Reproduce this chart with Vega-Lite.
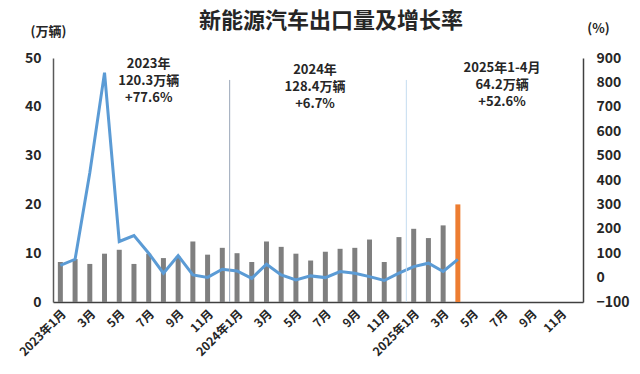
{
  "$schema": "https://vega.github.io/schema/vega-lite/v6.json",
  "width": 530,
  "height": 244,
  "autosize": {"type": "none"},
  "padding": {"left": 53, "top": 58, "right": 57, "bottom": 72},
  "background": "white",
  "config": {
    "font": "Noto Sans CJK SC",
    "view": {"stroke": null}
  },
  "title": {
    "text": "新能源汽车出口量及增长率",
    "fontSize": 22,
    "fontWeight": "bold",
    "color": "#262626",
    "anchor": "middle",
    "dx": 13,
    "offset": -11
  },
  "data": {
    "values": [
      {"ym": "2023-01", "vol": 8.2, "growth": 50},
      {"ym": "2023-02", "vol": 8.8, "growth": 75},
      {"ym": "2023-03", "vol": 7.8, "growth": 430},
      {"ym": "2023-04", "vol": 9.9, "growth": 840},
      {"ym": "2023-05", "vol": 10.7, "growth": 148},
      {"ym": "2023-06", "vol": 7.8, "growth": 172},
      {"ym": "2023-07", "vol": 9.9, "growth": 100},
      {"ym": "2023-08", "vol": 9.0, "growth": 18},
      {"ym": "2023-09", "vol": 9.3, "growth": 90},
      {"ym": "2023-10", "vol": 12.4, "growth": 11},
      {"ym": "2023-11", "vol": 9.7, "growth": 1},
      {"ym": "2023-12", "vol": 11.1, "growth": 34},
      {"ym": "2024-01", "vol": 10.0, "growth": 27},
      {"ym": "2024-02", "vol": 8.2, "growth": -3},
      {"ym": "2024-03", "vol": 12.4, "growth": 55},
      {"ym": "2024-04", "vol": 11.3, "growth": 11},
      {"ym": "2024-05", "vol": 9.9, "growth": -10},
      {"ym": "2024-06", "vol": 8.5, "growth": 7},
      {"ym": "2024-07", "vol": 10.3, "growth": 0},
      {"ym": "2024-08", "vol": 10.9, "growth": 25},
      {"ym": "2024-09", "vol": 11.1, "growth": 18},
      {"ym": "2024-10", "vol": 12.8, "growth": 4},
      {"ym": "2024-11", "vol": 8.2, "growth": -12},
      {"ym": "2024-12", "vol": 13.3, "growth": 18},
      {"ym": "2025-01", "vol": 15.0, "growth": 45},
      {"ym": "2025-02", "vol": 13.1, "growth": 59},
      {"ym": "2025-03", "vol": 15.7, "growth": 25},
      {"ym": "2025-04", "vol": 20.0, "growth": 75}
    ]
  },
  "layer": [
    {
      "mark": {"type": "bar", "size": 5},
      "encoding": {
        "x": {
          "field": "ym",
          "type": "ordinal",
          "scale": {
            "type": "band",
            "paddingInner": 0,
            "paddingOuter": 0,
            "domain": ["2023-01","2023-02","2023-03","2023-04","2023-05","2023-06","2023-07","2023-08","2023-09","2023-10","2023-11","2023-12","2024-01","2024-02","2024-03","2024-04","2024-05","2024-06","2024-07","2024-08","2024-09","2024-10","2024-11","2024-12","2025-01","2025-02","2025-03","2025-04","2025-05","2025-06","2025-07","2025-08","2025-09","2025-10","2025-11","2025-12"]
          },
          "axis": {
            "title": null,
            "labelAngle": -45,
            "labelFontSize": 12,
            "labelFontWeight": "bold",
            "labelColor": "#262626",
            "labelPadding": 6,
            "ticks": false,
            "domainColor": "#404040",
            "domainWidth": 1.5,
            "labelExpr": "parseInt(slice(datum.value, 5)) % 2 == 0 ? '' : (slice(datum.value, 5) == '01' ? slice(datum.value, 0, 4) + '年1月' : parseInt(slice(datum.value, 5)) + '月')"
          }
        },
        "y": {
          "field": "vol",
          "type": "quantitative",
          "scale": {"domain": [0, 50]},
          "axis": {
            "title": "(万辆)",
            "titleAngle": 0,
            "titleX": -5,
            "titleY": -27,
            "titleAlign": "center",
            "titleBaseline": "middle",
            "titleFontSize": 13,
            "titleFontWeight": "bold",
            "titleColor": "#262626",
            "values": [0, 10, 20, 30, 40, 50],
            "labelFontSize": 14,
            "labelFontWeight": "bold",
            "labelColor": "#262626",
            "labelPadding": 12,
            "ticks": false,
            "grid": false,
            "domainColor": "#595959",
            "domainWidth": 1.5
          }
        },
        "color": {
          "condition": {"test": "datum.ym == '2025-04'", "value": "#ED7D31"},
          "value": "#7F7F7F"
        }
      }
    },
    {
      "mark": {"type": "line", "color": "#5B9BD5", "strokeWidth": 3, "strokeJoin": "miter"},
      "encoding": {
        "x": {"field": "ym", "type": "ordinal"},
        "y": {
          "field": "growth",
          "type": "quantitative",
          "scale": {"domain": [-100, 900]},
          "axis": {
            "orient": "right",
            "title": "(%)",
            "titleAngle": 0,
            "titleX": 15,
            "titleY": -30,
            "titleAlign": "center",
            "titleBaseline": "middle",
            "titleFontSize": 13,
            "titleFontWeight": "bold",
            "titleColor": "#262626",
            "values": [-100, 0, 100, 200, 300, 400, 500, 600, 700, 800, 900],
            "labelFontSize": 14,
            "labelFontWeight": "bold",
            "labelColor": "#262626",
            "labelPadding": 13,
            "ticks": false,
            "grid": false,
            "domainColor": "#404040",
            "domainWidth": 1.5
          }
        }
      }
    },
    {
      "data": {
        "values": [
          {"ym": "2024-01", "top": 45.5, "kind": "a"},
          {"ym": "2025-01", "top": 45.5, "kind": "b"}
        ]
      },
      "mark": {"type": "rule", "strokeWidth": 1},
      "encoding": {
        "x": {"field": "ym", "type": "ordinal", "bandPosition": 0},
        "y": {"field": "top", "type": "quantitative", "scale": {"domain": [0, 50]}, "axis": null},
        "y2": {"datum": 0},
        "color": {
          "field": "kind",
          "type": "nominal",
          "scale": {"domain": ["a", "b"], "range": ["#9AA6B8", "#C5DCF0"]},
          "legend": null
        }
      }
    },
    {
      "data": {
        "values": [
          {"ym": "2023-07", "ypos": 50, "lines": ["2023年", "120.3万辆", "+77.6%"]},
          {"ym": "2025-07", "ypos": 49.2, "lines": ["2025年1-4月", "64.2万辆", "+52.6%"]}
        ]
      },
      "mark": {"type": "text", "fontSize": 13, "fontWeight": "bold", "color": "#262626", "baseline": "top", "align": "center", "lineHeight": 17},
      "encoding": {
        "x": {"field": "ym", "type": "ordinal"},
        "y": {"field": "ypos", "type": "quantitative", "scale": {"domain": [0, 50]}, "axis": null},
        "text": {"field": "lines"}
      }
    },
    {
      "data": {
        "values": [
          {"ym": "2024-07", "ypos": 48.8, "lines": ["2024年", "128.4万辆", "+6.7%"]}
        ]
      },
      "mark": {"type": "text", "fontSize": 13, "fontWeight": "bold", "color": "#262626", "baseline": "top", "align": "center", "lineHeight": 17, "dx": -3},
      "encoding": {
        "x": {"field": "ym", "type": "ordinal", "bandPosition": 0},
        "y": {"field": "ypos", "type": "quantitative", "scale": {"domain": [0, 50]}, "axis": null},
        "text": {"field": "lines"}
      }
    }
  ],
  "resolve": {"scale": {"y": "independent", "color": "independent"}}
}
